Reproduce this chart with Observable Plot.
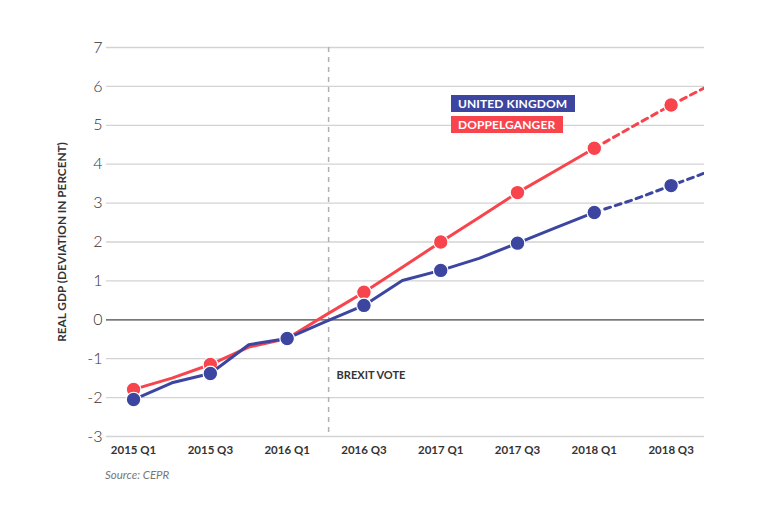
<!DOCTYPE html>
<html>
<head>
<meta charset="utf-8">
<script src="https://cdn.jsdelivr.net/npm/d3@7"></script>
<script src="https://cdn.jsdelivr.net/npm/@observablehq/plot@0.6"></script>
<style>
  body { margin: 0; background: #fff; }
  #wrap { position: relative; width: 760px; height: 510px; background: #fff; font-family: Lato, "Open Sans", sans-serif; }
  #legend { position: absolute; left: 451px; top: 95px; }
  .key { color: #fff; font-weight: bold; font-size: 12px; line-height: 17px; height: 17px; padding: 0 8px 0 7px; margin-bottom: 4px; display: table; letter-spacing: 0.1px; }
  #caption { position: absolute; left: 105px; top: 468px; font-size: 11.5px; font-style: italic; color: #777; }
</style>
</head>
<body>
<div id="wrap">
  <div id="chart"></div>
  <div id="legend"></div>
  <div id="caption">Source: CEPR</div>
</div>
<script>
// Quarters (index 0 = 2015 Q1)
const quarters = ["2015 Q1","2015 Q2","2015 Q3","2015 Q4","2016 Q1","2016 Q2","2016 Q3","2016 Q4",
                  "2017 Q1","2017 Q2","2017 Q3","2017 Q4","2018 Q1","2018 Q2","2018 Q3","2018 Q4"];
// Real GDP, deviation in percent
const ukGdp        = [-2.05, -1.62, -1.38, -0.64, -0.48, -0.05, 0.37, 1.01, 1.27, 1.58, 1.97, 2.37, 2.76, 3.08, 3.45, 3.82];
const doppelganger = [-1.79, -1.50, -1.15, -0.70, -0.48,  0.12, 0.71, 1.35, 2.00, 2.63, 3.27, 3.84, 4.41, 4.97, 5.52, 6.03];
// Quarters that carry a marker
const markerQuarters = ["2015 Q1","2015 Q3","2016 Q1","2016 Q3","2017 Q1","2017 Q3","2018 Q1","2018 Q3"];
// Forecast (dashed) from this quarter on
const forecastStart = "2018 Q1";
// Tick labels
const xTickLabels = ["2015 Q1","2015 Q3","2016 Q1","2016 Q3","2017 Q1","2017 Q3","2018 Q1","2018 Q3"];
const yTicks = [-3, -2, -1, 0, 1, 2, 3, 4, 5, 6, 7];
// Brexit vote annotation (in quarter-index units)
const brexitVote = 5.08;
const brexitLabel = "BREXIT VOTE";
const brexitLabelY = -1.43;
const yLabel = "REAL GDP (DEVIATION IN PERCENT)";
const seriesNames = ["UNITED KINGDOM", "DOPPELGANGER"];
const seriesColors = ["#3c46a0", "#f8444c"];

const rows = [];
quarters.forEach((q, i) => {
  rows.push({series: seriesNames[0], q, i, v: ukGdp[i]});
  rows.push({series: seriesNames[1], q, i, v: doppelganger[i]});
});
const fIdx = quarters.indexOf(forecastStart);
const solid = rows.filter(d => d.i <= fIdx);
const dashed = rows.filter(d => d.i >= fIdx);
const dots = rows.filter(d => markerQuarters.includes(d.q));
const xTickIdx = xTickLabels.map(l => quarters.indexOf(l));

function seriesMarks(name, color) {
  const f = d => d.series === name;
  return [
    Plot.line(solid.filter(f), {x: "i", y: "v", stroke: color, strokeWidth: 3, clip: true}),
    Plot.line(dashed.filter(f), {x: "i", y: "v", stroke: color, strokeWidth: 3, strokeDasharray: "6,5", clip: true}),
    Plot.dot(dots.filter(f), {x: "i", y: "v", r: 7.3, fill: color, stroke: "#fff", strokeWidth: 1.2})
  ];
}

const chart = Plot.plot({
  width: 760,
  height: 462,
  marginLeft: 106,
  marginRight: 56,
  marginTop: 47,
  marginBottom: 26,
  style: {fontFamily: "Lato, 'Open Sans', sans-serif", background: "#fff", color: "#333"},
  x: {domain: [-0.705, 14.87]},
  y: {domain: [-3, 7]},
  marks: [
    Plot.gridY(yTicks, {stroke: "#d3d3d3", strokeOpacity: 1, strokeWidth: 1.3}),
    Plot.axisY(yTicks, {tickSize: 0, tickPadding: 4, fontSize: 16, fontWeight: 300, label: null, fill: "#333", tickFormat: d => String(d)}),
    Plot.axisX(xTickIdx, {tickSize: 0, tickPadding: 9, fontSize: 11.5, fontWeight: "bold", label: null, tickFormat: i => quarters[i], fill: "#333"}),
    Plot.text([yLabel], {frameAnchor: "left", textAnchor: "middle", rotate: -90, dx: -44, fontSize: 11.8, fontWeight: "bold", fill: "#333"}),
    Plot.ruleY([0], {stroke: "#555", strokeWidth: 1.2}),
    Plot.ruleX([brexitVote], {stroke: "#b0b0b0", strokeWidth: 1.5, strokeDasharray: "5,5"}),
    Plot.text([brexitLabel], {x: brexitVote, y: brexitLabelY, dx: 8, textAnchor: "start", fontSize: 11, fontWeight: "bold", fill: "#333"}),
    ...seriesMarks(seriesNames[1], seriesColors[1]),
    ...seriesMarks(seriesNames[0], seriesColors[0])
  ]
});
document.getElementById("chart").appendChild(chart);

const legend = document.getElementById("legend");
seriesNames.forEach((n, k) => {
  const d = document.createElement("div");
  d.className = "key";
  d.style.background = seriesColors[k];
  d.textContent = n;
  legend.appendChild(d);
});
</script>
</body>
</html>
